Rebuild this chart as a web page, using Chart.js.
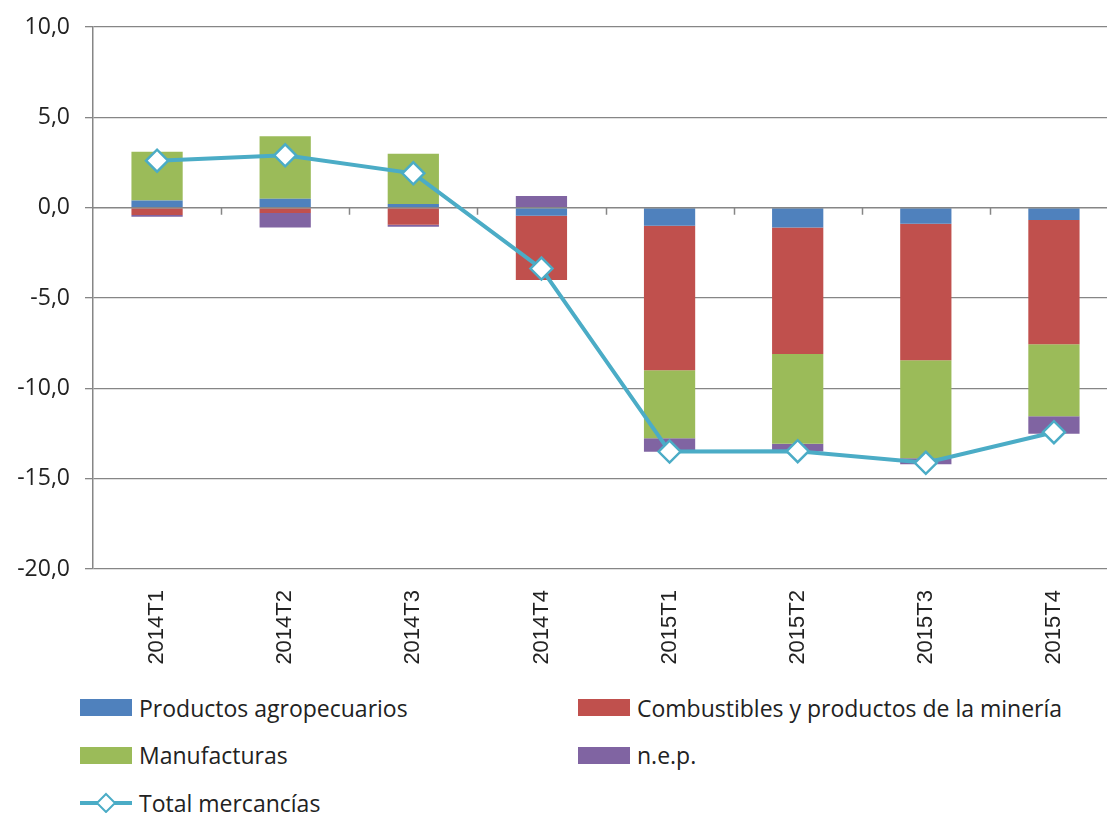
<!DOCTYPE html>
<html><head><meta charset="utf-8">
<script src="https://cdn.jsdelivr.net/npm/chart.js@4/dist/chart.umd.min.js"></script>
<style>
html,body{margin:0;padding:0;background:#fff;overflow:hidden;width:1107px;height:813px;position:relative;}
#c{position:absolute;left:0;top:0;}
#legend{position:absolute;left:80px;top:684px;display:grid;grid-template-columns:498px 498px;grid-auto-rows:47.5px;font-family:"Open Sans";font-size:23px;color:#222;}
.item{display:flex;align-items:center;white-space:nowrap;}
.sw{width:52px;height:17px;margin-right:7px;flex:none;}
.ln{width:52px;height:24px;margin-right:7px;flex:none;}
</style></head>
<body>
<canvas id="c" width="1118" height="680"></canvas>
<div id="legend"></div>
<script>
const categories = ["2014T1","2014T2","2014T3","2014T4","2015T1","2015T2","2015T3","2015T4"];
const agro   = [0.4, 0.5, 0.2, -0.45, -1.0, -1.1, -0.89, -0.68];
const comb   = [-0.4, -0.3, -0.95, -3.56, -8.0, -7.0, -7.56, -6.88];
const manuf  = [2.7, 3.45, 2.78, 0.0, -3.76, -4.97, -5.42, -3.99];
const nep    = [-0.1, -0.8, -0.1, 0.64, -0.75, -0.42, -0.33, -0.96];
const total  = [2.6, 2.9, 1.9, -3.37, -13.5, -13.48, -14.12, -12.43];
const yTicks = [10, 5, 0, -5, -10, -15, -20];

const GRID = '#868686';
const YFONT = {family: 'Open Sans', size: 23};
const XFONT = {family: 'Liberation Sans', size: 22};

const zeroAxis = {
  id: 'zeroAxis',
  beforeDatasetDraw(chart, args) {
    if (args.index !== 4) return;
    const {ctx, scales: {x, y}} = chart;
    const y0 = y.getPixelForValue(0);
    ctx.save();
    ctx.strokeStyle = GRID;
    ctx.lineWidth = 1.5;
    ctx.beginPath();
    ctx.moveTo(x.left, y0); ctx.lineTo(x.right, y0);
    const step = (x.right - x.left) / categories.length;
    for (let i = 1; i <= categories.length; i++) {
      const px = Math.round(x.left + i * step) + 0.5;
      ctx.moveTo(px, y0); ctx.lineTo(px, y0 + 7);
    }
    ctx.stroke();
    ctx.restore();
  }
};

const barDs = (label, data, color) => ({
  type: 'bar', label, data, backgroundColor: color, borderWidth: 0,
  barPercentage: 0.4, categoryPercentage: 1, order: 1, stack: 's'
});

const chart = new Chart(document.getElementById('c'), {
  data: {
    labels: categories,
    datasets: [
      barDs('Productos agropecuarios', agro, '#4F81BD'),
      barDs('Combustibles y productos de la minería', comb, '#C0504D'),
      barDs('Manufacturas', manuf, '#9BBB59'),
      barDs('n.e.p.', nep, '#8064A2'),
      {
        type: 'line', label: 'Total mercancías', data: total, order: 0,
        borderColor: '#4BACC6', borderWidth: 4, pointStyle: 'rectRot',
        pointRadius: 11, pointBackgroundColor: '#fff', pointBorderColor: '#4BACC6',
        pointBorderWidth: 2.5, tension: 0, clip: false
      }
    ]
  },
  options: {
    responsive: false, animation: false, devicePixelRatio: 1,
    layout: {autoPadding: false, padding: {top: 27, left: 0, right: 0, bottom: 0}},
    plugins: {legend: {display: false}, tooltip: {enabled: false}},
    scales: {
      x: {
        stacked: true, offset: true,
        grid: {display: false, drawTicks: false}, border: {display: false},
        ticks: {font: XFONT, color: '#222', minRotation: 90, maxRotation: 90, padding: 21},
        afterFit(s) { s.height = 111; s.paddingLeft = 0; s.paddingRight = 0; }
      },
      y: {
        stacked: true, min: -20, max: 10,
        afterBuildTicks(s) { s.ticks = yTicks.map(v => ({value: v})); },
        grid: {color: (c) => c.tick && c.tick.value === 0 ? 'rgba(0,0,0,0)' : GRID, lineWidth: 1.3, tickLength: 8, tickColor: GRID},
        border: {color: GRID, width: 1.5},
        ticks: {font: YFONT, color: '#222', padding: 15, callback: v => v.toFixed(1).replace('.', ',')},
        afterFit(s) { s.width = 93; s.paddingTop = 0; s.paddingBottom = 0; }
      }
    }
  },
  plugins: [zeroAxis]
});

const leg = document.getElementById('legend');
chart.data.datasets.forEach(ds => {
  const it = document.createElement('div');
  it.className = 'item';
  if (ds.type === 'line') {
    it.innerHTML = '<svg class="ln" viewBox="0 0 52 24"><line x1="0" y1="12" x2="52" y2="12" stroke="' + ds.borderColor + '" stroke-width="4"/><path d="M26 3 L35 12 L26 21 L17 12 Z" fill="#fff" stroke="' + ds.borderColor + '" stroke-width="2"/></svg>';
  } else {
    it.innerHTML = '<div class="sw" style="background:' + ds.backgroundColor + '"></div>';
  }
  const t = document.createElement('span');
  t.textContent = ds.label;
  it.appendChild(t);
  leg.appendChild(it);
});
</script>
</body></html>
